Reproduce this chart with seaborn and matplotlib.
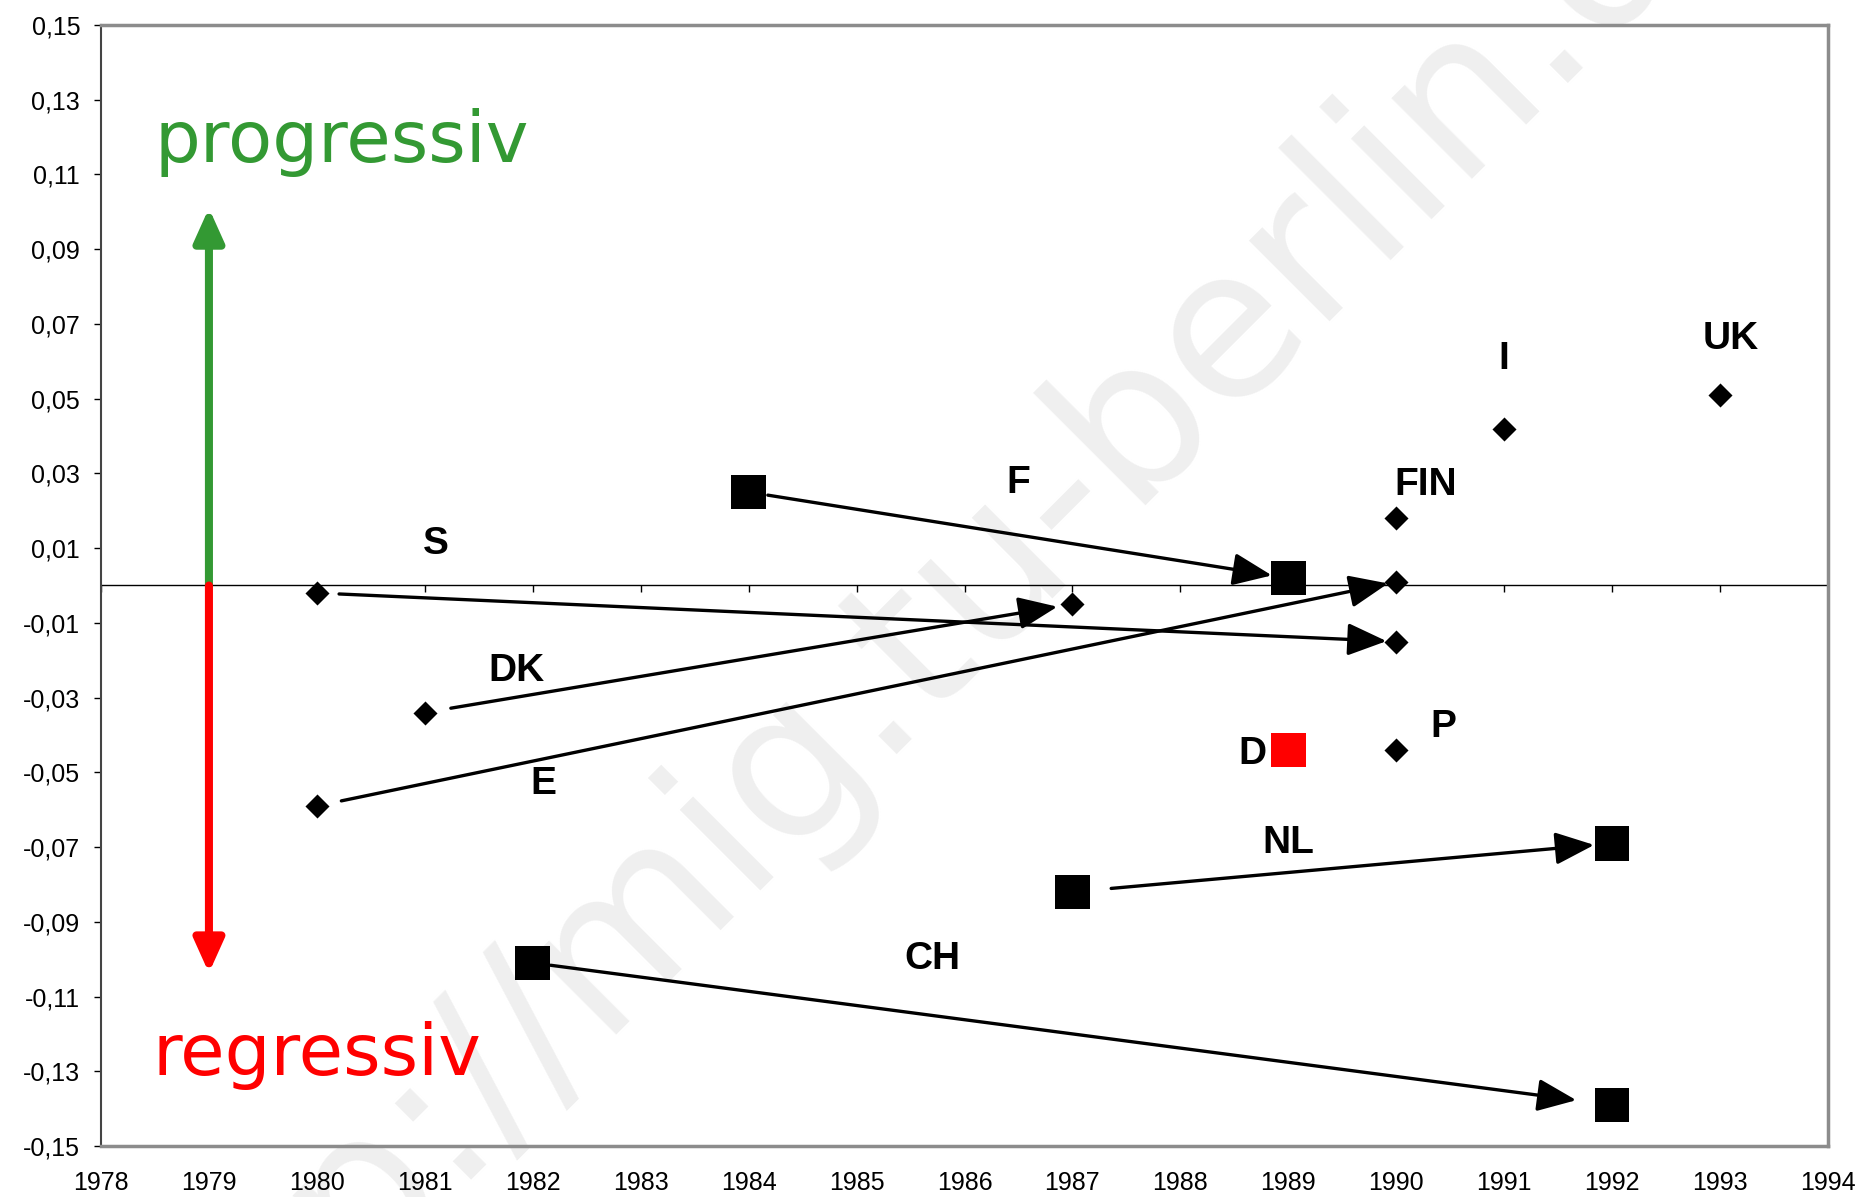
import pandas as pd
import seaborn as sns
import matplotlib.pyplot as plt
from matplotlib.ticker import FuncFormatter

# Countries that moved: start year/value -> end year/value
move_labels = ['S', 'DK', 'E', 'F', 'NL', 'CH']
move_x0 = [1980, 1981, 1980, 1984, 1987, 1982]
move_y0 = [-0.002, -0.034, -0.059, 0.025, -0.082, -0.101]
move_x1 = [1990, 1987, 1990, 1989, 1992, 1992]
move_y1 = [-0.015, -0.005, 0.001, 0.002, -0.069, -0.139]
move_shape = ['diamond', 'diamond', 'diamond', 'square', 'square', 'square']

# Countries with a single observation
single_labels = ['FIN', 'I', 'UK', 'P', 'D']
single_x = [1990, 1991, 1993, 1990, 1989]
single_y = [0.018, 0.042, 0.051, -0.044, -0.044]
single_shape = ['diamond', 'diamond', 'diamond', 'diamond', 'square']
single_colour = ['black', 'black', 'black', 'black', 'red']

# Country name annotations
label_text = ['S', 'DK', 'E', 'F', 'FIN', 'I', 'UK', 'P', 'D', 'NL', 'CH']
label_x = [1981.1, 1981.85, 1982.1, 1986.5, 1990.27, 1991.0, 1993.1, 1990.44, 1988.67, 1989.0, 1985.7]
label_y = [0.011, -0.023, -0.053, 0.0275, 0.027, 0.0605, 0.066, -0.038, -0.045, -0.069, -0.1]

years = list(range(1978, 1995))
y_ticks = [-0.15, -0.13, -0.11, -0.09, -0.07, -0.05, -0.03, -0.01,
           0.01, 0.03, 0.05, 0.07, 0.09, 0.11, 0.13, 0.15]

pts = pd.DataFrame({
    'year': move_x0 + move_x1 + single_x,
    'value': move_y0 + move_y1 + single_y,
    'shape': move_shape + move_shape + single_shape,
    'colour': ['black'] * (2 * len(move_labels)) + single_colour,
})

sns.set_style('white')
plt.rcParams['font.family'] = ['Liberation Sans', 'DejaVu Sans']
plt.rcParams['text.color'] = 'black'
plt.rcParams['xtick.color'] = 'black'
plt.rcParams['ytick.color'] = 'black'

fig = plt.figure(figsize=(18.6, 11.97), dpi=100)
fig.patch.set_facecolor('white')
ax = fig.add_axes([101 / 1860, 1 - 1146 / 1197, (1828 - 101) / 1860, (1146 - 25) / 1197])
ax.set_facecolor('none')

# watermark
fig.text(0.5175, 0.4403, 'http://mig.tu-berlin.de', rotation=45, rotation_mode='anchor',
         ha='center', va='baseline', fontsize=150, color='#efefef', zorder=-1,
         family='DejaVu Sans')

# markers
sns.scatterplot(data=pts[pts['shape'] == 'diamond'], x='year', y='value', marker='D',
                s=150, color='black', linewidth=0, ax=ax, legend=False, zorder=3)
sns.scatterplot(data=pts[pts['shape'] == 'square'], x='year', y='value', marker='s',
                s=620, hue='colour', palette={'black': 'black', 'red': 'red'},
                linewidth=0, ax=ax, legend=False, zorder=3)

# movement arrows
shrink_a = [16, 19, 18, 14, 28, 13]
shrink_b = [7, 11, 6, 12, 13, 26]
for i in range(len(move_labels)):
    ax.annotate('', xy=(move_x1[i], move_y1[i]), xytext=(move_x0[i], move_y0[i]),
                arrowprops=dict(arrowstyle='-|>,head_length=1.2,head_width=0.5',
                                mutation_scale=20, lw=2.4, color='black',
                                shrinkA=shrink_a[i], shrinkB=shrink_b[i]), zorder=4)

for t, x, y in zip(label_text, label_x, label_y):
    ax.text(x, y, t, fontsize=28, fontweight='bold', color='black',
            ha='center', va='center', zorder=5)

# progressive / regressive arrows
ax.annotate('', xy=(1979, 0.101), xytext=(1979, 0),
            arrowprops=dict(arrowstyle='-|>,head_length=1.0,head_width=0.45', mutation_scale=20,
                            lw=5.8, color='#339933', shrinkA=0, shrinkB=0))
ax.annotate('', xy=(1979, -0.1037), xytext=(1979, 0),
            arrowprops=dict(arrowstyle='-|>,head_length=1.0,head_width=0.45', mutation_scale=20,
                            lw=5.8, color='#ff0000', shrinkA=0, shrinkB=0))
ax.text(1978.5, 0.1134, 'progressiv', color='#339933', fontsize=52, family='DejaVu Sans',
        ha='left', va='baseline')
ax.text(1978.48, -0.1309, 'regressiv', color='#ff0000', fontsize=52, family='DejaVu Sans',
        ha='left', va='baseline')

ax.set_xlim(1978, 1994)
ax.set_ylim(-0.15, 0.15)
ax.set_xticks(years)
ax.set_yticks(y_ticks)
ax.yaxis.set_major_formatter(FuncFormatter(lambda v, p: f'{v:.2f}'.replace('.', ',')))
ax.tick_params(axis='x', length=0, pad=18, labelsize=18, labelcolor='black')
ax.tick_params(axis='y', length=5, width=1, direction='out', pad=10, labelsize=18,
               left=True, labelcolor='black')
ax.set_xlabel('')
ax.set_ylabel('')

for side in ['top', 'right', 'bottom']:
    ax.spines[side].set_color('#8c8c8c')
    ax.spines[side].set_linewidth(2.5)
ax.spines['left'].set_color('#444444')
ax.spines['left'].set_linewidth(1.5)

# zero line with year ticks
zero = ax.secondary_xaxis(0.5)
zero.set_xticks(years, labels=[])
zero.spines['top'].set_color('black')
zero.spines['top'].set_linewidth(1)
zero.tick_params(direction='in', length=5, width=1, color='black')

fig.savefig('out.png', dpi=100, facecolor='white')
